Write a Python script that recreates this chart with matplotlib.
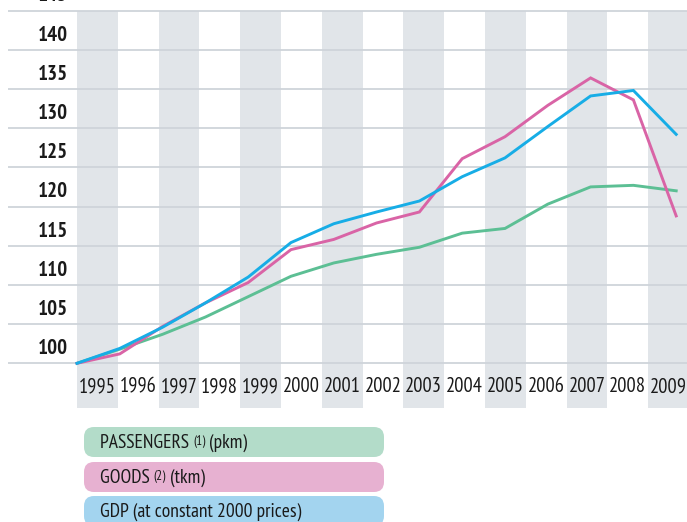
import matplotlib
matplotlib.use("Agg")
import matplotlib.pyplot as plt
from matplotlib.patches import FancyBboxPatch
from matplotlib import font_manager

years = [str(y) for y in range(1995, 2010)]
passengers = [100, 101.8, 103.7, 105.9, 108.5, 111.1, 112.8, 113.9, 114.8, 116.6, 117.2, 120.3, 122.5, 122.7, 122.0]
goods = [100, 101.2, 104.7, 107.7, 110.3, 114.5, 115.8, 117.9, 119.3, 126.1, 128.9, 132.9, 136.4, 133.6, 118.8]
gdp = [100, 101.9, 104.6, 107.7, 111.0, 115.4, 117.8, 119.3, 120.7, 123.8, 126.2, 130.2, 134.1, 134.8, 129.2]
y_ticks = [100, 105, 110, 115, 120, 125, 130, 135, 140, 145]
legend_labels = [("PASSENGERS ", "(1)", " (pkm)"), ("GOODS ", "(2)", " (tkm)"), ("GDP (at constant 2000 prices)", "", "")]

C_PASS = "#5cbf94"
C_GOODS = "#d964a6"
C_GDP = "#17ade6"
LEG_COLS = ["#b3dcc9", "#e7b1d1", "#a3d4ef"]
BAND = "#e1e5e9"
GRID = "#cfd4da"
TXT = "#1a1a1a"

names = {f.name for f in font_manager.fontManager.ttflist}
FONT = [f for f in ["PT Sans Narrow", "Fira Sans Condensed", "Roboto Condensed", "DejaVu Sans"] if f in names][0]

W, H = 687, 522
fig = plt.figure(figsize=(W / 100, H / 100), dpi=100)
ax = fig.add_axes([0, 0, 1, 1])
ax.axis("off")

# pixel layout
x0_px, step_px, band_px = 77, 42.8, 40.8
y100_px, unit_px = 363.3, 7.84
ax.set_xlim(-x0_px / step_px, (W - x0_px) / step_px)
ax.set_ylim(100 - (H - y100_px) / unit_px, 100 + y100_px / unit_px)

def vpx(p):  # pixel-from-top -> value
    return 100 + (y100_px - p) / unit_px

bw = band_px / step_px
n = len(years)
band_top = max(y_ticks)
band_bot = vpx(408)
for k in range(n):
    if k % 2 == 0:
        ax.fill_between([k * bw, (k + 1) * bw], band_bot, band_top, color=BAND, lw=0, zorder=0)
    ax.text((k + 0.5) * bw, vpx(387), years[k], ha="center", va="center",
            fontsize=14.8, family=FONT, color=TXT, zorder=3)

xl = (8 - x0_px) / step_px
for t in y_ticks:
    ax.plot([xl, ax.get_xlim()[1]], [t, t], color=GRID, lw=1.3, zorder=1, solid_capstyle="butt")
    ax.text((68 - x0_px) / step_px, t + 1.85, str(t), ha="right", va="center",
            fontsize=15, family=FONT, weight="bold", color=TXT, zorder=3)

xs = list(range(n))
ax.plot(xs, passengers, color=C_PASS, lw=2.1, zorder=4, solid_joinstyle="miter")
ax.plot(xs, goods, color=C_GOODS, lw=2.1, zorder=5, solid_joinstyle="miter")
ax.plot(xs, gdp, color=C_GDP, lw=2.1, zorder=6, solid_joinstyle="miter")

# legend boxes (figure pixel coords)
box_tops = [427, 462, 496]
for (a, b, c), col, top in zip(legend_labels, LEG_COLS, box_tops):
    hgt = 30
    y_bot = H - top - hgt
    r = 10
    patch = FancyBboxPatch(((84 + r) / W, (y_bot + r) / H), (300 - 2 * r) / W, (hgt - 2 * r) / H,
                           boxstyle=f"round,pad={r / W},rounding_size={r / W}", transform=fig.transFigure,
                           facecolor=col, edgecolor="none", zorder=2, mutation_aspect=W / H)
    ax.add_patch(patch)
    t1 = ax.text(100 / W, (y_bot + hgt / 2 - 1) / H, a, ha="left", va="center",
                 fontsize=14, family=FONT, color=TXT, transform=fig.transFigure, zorder=3)
    if b:
        t2 = ax.annotate(b, xy=(1, 0), xycoords=t1, xytext=(0, 3.2), textcoords="offset points",
                         ha="left", va="bottom", fontsize=9.5, family=FONT, color=TXT,
                         annotation_clip=False, zorder=3)
        ax.annotate(c, xy=(1, 0), xycoords=(t2, t1), ha="left", va="bottom",
                    fontsize=14, family=FONT, color=TXT, annotation_clip=False, zorder=3)

fig.savefig("out.png", dpi=100)
